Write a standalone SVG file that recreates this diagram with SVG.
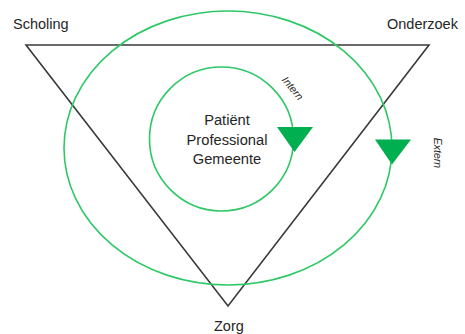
<svg xmlns="http://www.w3.org/2000/svg" width="465" height="334" viewBox="0 0 465 334">
  <style>
    .label { font-family: "Liberation Sans", Arial, sans-serif; font-size: 14.5px; fill: #262626; }
    .center { font-family: "Liberation Sans", Arial, sans-serif; font-size: 14.7px; fill: #262626; text-anchor: middle; }
    .flow { font-family: "Liberation Sans", Arial, sans-serif; font-size: 10.5px; font-style: italic; fill: #262626; text-anchor: middle; }
    .ring { fill: none; stroke: #2ec866; stroke-width: 1.6; }
    .tri { fill: none; stroke: #3a3a3a; stroke-width: 1.6; stroke-linejoin: miter; }
    .head { fill: #00b050; }
  </style>
  <rect width="465" height="334" fill="#ffffff"/>

  <!-- main triangle -->
  <g id="triangle">
    <polygon class="tri" points="26,45 429,45 228,306"/>
  </g>

  <!-- rings with their direction heads -->
  <g id="connectors">
    <ellipse id="outer-ring" class="ring" cx="228" cy="148" rx="164" ry="137"/>
    <circle id="inner-ring" class="ring" cx="221.5" cy="139" r="72"/>
    <polygon class="head" points="277,127 313,127 294.5,152"/>
    <polygon class="head" points="375,139.5 411,139.5 392,164.5"/>
  </g>

  <!-- corner labels -->
  <g id="scholing"><text class="label" x="13" y="29">Scholing</text></g>
  <g id="onderzoek"><text class="label" x="387" y="29">Onderzoek</text></g>
  <g id="zorg"><text class="label" x="214" y="330.5">Zorg</text></g>

  <!-- center -->
  <g id="kern">
    <text class="center" x="227" y="125">Patiënt</text>
    <text class="center" x="227" y="145">Professional</text>
    <text class="center" x="227" y="164">Gemeente</text>
  </g>

  <!-- ring labels -->
  <g id="intern"><text class="flow" transform="translate(293,88) rotate(50)" y="4">Intern</text></g>
  <g id="extern"><text class="flow" transform="translate(438,153) rotate(90)" y="4">Extern</text></g>
</svg>
